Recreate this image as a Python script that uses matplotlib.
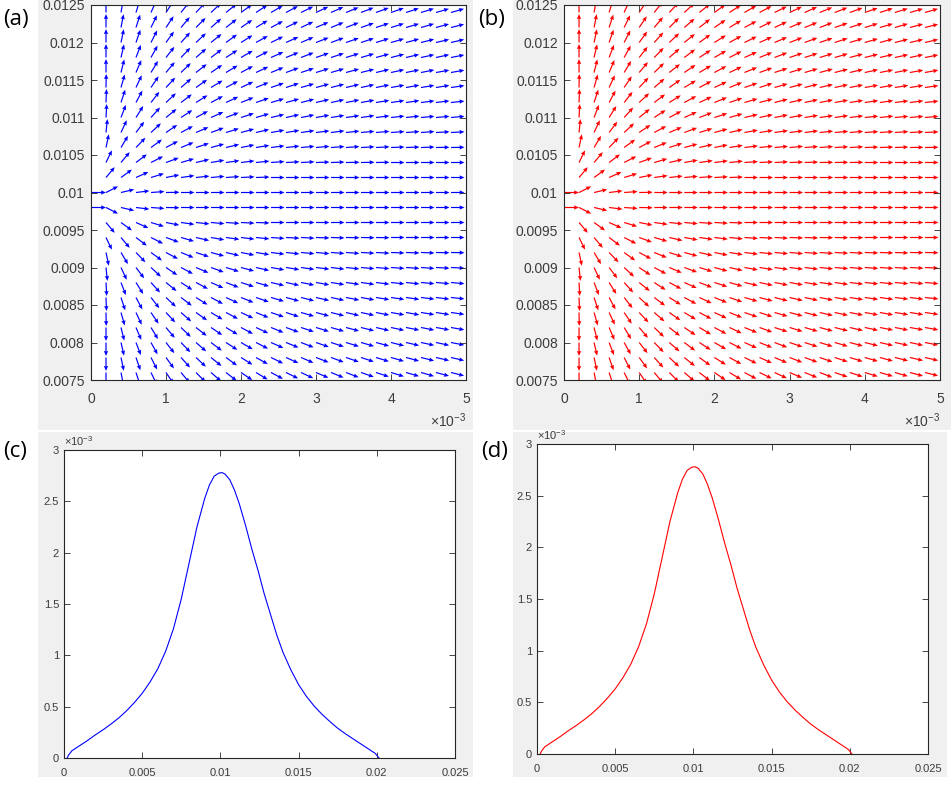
import numpy as np
import matplotlib.pyplot as plt
from matplotlib.patches import Rectangle

plt.rcParams['font.family'] = ['Liberation Sans', 'DejaVu Sans']
plt.rcParams['mathtext.fontset'] = 'custom'
plt.rcParams['mathtext.rm'] = 'Liberation Sans'
plt.rcParams['mathtext.it'] = 'Liberation Sans'

W, H = 951, 785

# ---- field plots (a), (b) ----
x_cols = [0.0002, 0.0004, 0.0006, 0.0008, 0.0010, 0.0012, 0.0014, 0.0016,
          0.0018, 0.0020, 0.0022, 0.0024, 0.0026, 0.0028, 0.0030, 0.0032,
          0.0034, 0.0036, 0.0038, 0.0040, 0.0042, 0.0044, 0.0046, 0.0048]
y_rows_up = [0.0124, 0.0122, 0.0120, 0.0118, 0.0116, 0.0114, 0.0112,
             0.0110, 0.0108, 0.0106, 0.0104, 0.0102, 0.0100]
# rows below the source, same order as the mirrored upper rows (0.0100 <-> 0.0098 ...)
y_rows_down = [0.0076, 0.0078, 0.0080, 0.0082, 0.0084, 0.0086, 0.0088,
               0.0090, 0.0092, 0.0094, 0.0096, 0.0098]

# arrow angle in degrees, one row per y_rows_up entry, one column per x_cols entry
angles_up = [
    [90, 80, 73, 66, 57, 52, 47, 43, 39, 36, 33, 30, 28, 26, 25, 24, 22, 21, 20, 19, 18, 17, 16, 16],
    [90, 79, 72, 64, 56, 50, 45, 41, 38, 34, 31, 28, 26, 25, 23, 22, 21, 19, 18, 17, 16, 16, 15, 14],
    [90, 78, 71, 63, 54, 48, 43, 39, 36, 32, 29, 26, 24, 23, 21, 20, 19, 18, 17, 16, 15, 14, 13, 13],
    [90, 77, 69, 61, 52, 46, 41, 37, 33, 30, 27, 24, 22, 21, 19, 18, 17, 16, 15, 14, 13, 12, 12, 11],
    [90, 76, 67, 59, 50, 44, 38, 34, 31, 28, 25, 22, 20, 18, 17, 16, 15, 14, 13, 12, 11, 11, 10, 10],
    [89, 74, 65, 56, 47, 41, 35, 31, 28, 25, 22, 19, 18, 16, 15, 14, 13, 12, 11, 10, 10, 9, 9, 8],
    [88, 72, 62, 52, 43, 37, 32, 28, 25, 22, 19, 16, 15, 14, 13, 12, 11, 10, 9, 8, 8, 7, 7, 6],
    [87, 69, 58, 48, 39, 33, 28, 24, 21, 18, 16, 13, 12, 11, 10, 9, 8, 8, 7, 6, 6, 5, 5, 5],
    [84, 65, 53, 43, 34, 28, 23, 20, 17, 15, 13, 10, 9, 8, 7, 7, 6, 5, 5, 4, 4, 4, 3, 3],
    [78, 59, 46, 36, 28, 22, 18, 15, 13, 11, 9, 7, 6, 5, 5, 4, 4, 3, 3, 2, 2, 2, 1, 1],
    [64, 50, 37, 27, 20, 16, 13, 10, 8, 7, 6, 4, 3, 3, 2, 2, 1, 1, 1, 0, 0, 0, 0, 0],
    [50, 36, 24, 17, 11, 8, 6, 5, 4, 3, 2, 0, 0, 0, 0, 0, 0, 0, 0, 0, 0, 0, 0, 0],
    [27, 13, 7, 4, 1, 0, 0, 0, 0, 0, 0, 0, 0, 0, 0, 0, 0, 0, 0, 0, 0, 0, 0, 0],
]
# short horizontal arrows on the left edge, next to the source
edge_y = [0.0100, 0.0098]

field_yticks = [0.0075, 0.008, 0.0085, 0.009, 0.0095, 0.01, 0.0105, 0.011,
                0.0115, 0.012, 0.0125]
field_ylabels = ['0.0075', '0.008', '0.0085', '0.009', '0.0095', '0.01',
                 '0.0105', '0.011', '0.0115', '0.012', '0.0125']
field_xticks = [0, 0.001, 0.002, 0.003, 0.004, 0.005]
field_xlabels = ['0', '1', '2', '3', '4', '5']

# ---- profile plots (c), (d) ----
curve_x = [0.0002, 0.0003, 0.0005, 0.0010, 0.0015, 0.0020, 0.0025, 0.0030,
           0.0035, 0.0040, 0.0045, 0.0050, 0.0055, 0.0060, 0.0065, 0.0070,
           0.0075, 0.0080, 0.0085, 0.0090, 0.0093, 0.0096, 0.0099, 0.0101,
           0.0103, 0.0106, 0.0109, 0.0112, 0.0116, 0.0120, 0.0124, 0.0128,
           0.0132, 0.0136, 0.0140, 0.0145, 0.0150, 0.0155, 0.0160, 0.0165,
           0.0170, 0.0175, 0.0180, 0.0185, 0.0190, 0.0195, 0.0199, 0.02014]
curve_y = [0.0, 0.03e-3, 0.07e-3, 0.12e-3, 0.17e-3, 0.225e-3, 0.275e-3,
           0.33e-3, 0.39e-3, 0.46e-3, 0.54e-3, 0.63e-3, 0.74e-3, 0.87e-3,
           1.04e-3, 1.26e-3, 1.55e-3, 1.90e-3, 2.25e-3, 2.53e-3, 2.66e-3,
           2.745e-3, 2.775e-3, 2.78e-3, 2.765e-3, 2.71e-3, 2.61e-3, 2.48e-3,
           2.27e-3, 2.04e-3, 1.83e-3, 1.60e-3, 1.40e-3, 1.20e-3, 1.03e-3,
           0.86e-3, 0.715e-3, 0.60e-3, 0.505e-3, 0.425e-3, 0.355e-3, 0.29e-3,
           0.235e-3, 0.185e-3, 0.135e-3, 0.085e-3, 0.045e-3, 0.0]
prof_xticks = [0, 0.005, 0.01, 0.015, 0.02, 0.025]
prof_xlabels = ['0', '0.005', '0.01', '0.015', '0.02', '0.025']
prof_yticks = [0, 0.5e-3, 1e-3, 1.5e-3, 2e-3, 2.5e-3, 3e-3]
prof_ylabels = ['0', '0.5', '1', '1.5', '2', '2.5', '3']

AX_COL = '#262626'
LBL_COL = '#3c3c3c'


def px_rect(l, t, r, b):
    return [l / W, 1 - b / H, (r - l) / W, (b - t) / H]


fig = plt.figure(figsize=(W / 100, H / 100), dpi=100)

# grey screenshot backgrounds
for l, t, r, b in [(38, 0, 473, 430), (513, 0, 951, 430),
                   (38, 432, 473, 777), (513, 432, 947, 777)]:
    fig.patches.append(Rectangle((l / W, 1 - b / H), (r - l) / W, (b - t) / H,
                                 transform=fig.transFigure, facecolor='#f0f0f0',
                                 edgecolor='none', zorder=-5))


def style_axes(ax, size, xpad, ypad):
    for s in ax.spines.values():
        s.set_color(AX_COL)
        s.set_linewidth(0.8)
    ax.tick_params(direction='in', top=True, right=True, length=4, width=0.6,
                   color=AX_COL, labelcolor=LBL_COL, labelsize=size)
    ax.tick_params(axis='x', pad=xpad)
    ax.tick_params(axis='y', pad=ypad)


def field_panel(rect, color):
    ax = fig.add_axes(px_rect(*rect))
    L = 0.00018
    X, Y, U, V = [], [], [], []
    for yr, row in zip(y_rows_up, angles_up):
        for xc, a in zip(x_cols, row):
            X.append(xc); Y.append(yr)
            U.append(L * np.cos(np.radians(a))); V.append(L * np.sin(np.radians(a)))
    for yr, row in zip(y_rows_down, angles_up[1:]):
        for xc, a in zip(x_cols, row):
            X.append(xc); Y.append(yr)
            U.append(L * np.cos(np.radians(a))); V.append(-L * np.sin(np.radians(a)))
    for yr in edge_y:
        X.append(0.0); Y.append(yr); U.append(0.0002); V.append(0.0)
    ax.quiver(X, Y, U, V, angles='xy', scale_units='xy', scale=1, color=color,
              width=0.0032, headwidth=3.6, headlength=4.2, headaxislength=3.8)
    ax.set_xlim(0, 0.005)
    ax.set_ylim(0.0075, 0.0125)
    ax.set_xticks(field_xticks, field_xlabels)
    ax.set_yticks(field_yticks, field_ylabels)
    style_axes(ax, 10, 8.5, 4.5)
    ax.text(1.0, -0.085, r'$\times10^{-3}$', transform=ax.transAxes,
            ha='right', va='top', fontsize=10, color=LBL_COL)
    return ax


def profile_panel(rect, color):
    ax = fig.add_axes(px_rect(*rect))
    ax.plot(curve_x, curve_y, color=color, lw=0.8)
    ax.set_xlim(0, 0.025)
    ax.set_ylim(0, 0.003)
    ax.set_xticks(prof_xticks, prof_xlabels)
    ax.set_yticks(prof_yticks, prof_ylabels)
    style_axes(ax, 8, 7, 3.5)
    ax.text(0.0, 1.005, r'$\times10^{-3}$', transform=ax.transAxes,
            ha='left', va='bottom', fontsize=8, color=LBL_COL)
    return ax


field_panel((91, 5, 466, 380), 'blue')
field_panel((564, 5, 940, 380), 'red')
profile_panel((64, 450, 455, 758), 'blue')
profile_panel((537, 444, 928, 754), 'red')

for lab, xp, yp in [('(a)', 3, 19), ('(b)', 478, 19), ('(c)', 3, 452), ('(d)', 481, 452)]:
    fig.text(xp / W, 1 - yp / H, lab, family=['Open Sans', 'DejaVu Sans'],
             fontsize=16, ha='left', va='center', color='black')

fig.savefig('out.png', dpi=100)
